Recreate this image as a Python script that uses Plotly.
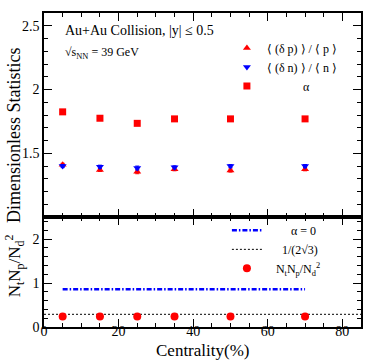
import plotly.graph_objects as go

# centrality bins (%)
centrality = [5, 15, 25, 35, 50, 70]

# top panel values
dp_over_p = [1.41, 1.37, 1.355, 1.375, 1.365, 1.375]
dn_over_n = [1.40, 1.395, 1.385, 1.39, 1.40, 1.40]
alpha = [1.825, 1.775, 1.735, 1.77, 1.77, 1.77]
err_small = [0.012, 0.012, 0.015, 0.012, 0.012, 0.012]

# bottom panel values
ratio = [0.24, 0.24, 0.24, 0.24, 0.24, 0.24]
alpha0 = [0.86, 0.86, 0.86, 0.86, 0.86, 0.86]
ref_x = [0, 85]
ref_val = [0.2887, 0.2887]

FONT = "Liberation Serif"

fig = go.Figure()

fig.add_trace(go.Scatter(
    x=centrality, y=dp_over_p, mode="markers", name="⟨ (δ p) ⟩ / ⟨ p ⟩",
    marker=dict(symbol="triangle-up", color="#ff0000", size=7),
    error_y=dict(type="data", array=err_small, color="#ff0000", thickness=1, width=2),
    xaxis="x", yaxis="y", legend="legend"))
fig.add_trace(go.Scatter(
    x=centrality, y=dn_over_n, mode="markers", name="⟨ (δ n) ⟩ / ⟨ n ⟩",
    marker=dict(symbol="triangle-down", color="#0000ff", size=7),
    error_y=dict(type="data", array=err_small, color="#0000ff", thickness=1, width=2),
    xaxis="x", yaxis="y", legend="legend"))
fig.add_trace(go.Scatter(
    x=centrality, y=alpha, mode="markers", name="            α",
    marker=dict(symbol="square", color="#ff0000", size=7),
    xaxis="x", yaxis="y", legend="legend"))

fig.add_trace(go.Scatter(
    x=centrality, y=alpha0, mode="lines", name="        α = 0",
    line=dict(color="#0000ff", dash="5px,2px,1.5px,2px", width=2.5),
    xaxis="x2", yaxis="y2", legend="legend2"))
fig.add_trace(go.Scatter(
    x=ref_x, y=ref_val, mode="lines", name="     1/(2√3)",
    line=dict(color="black", dash="2px,2px", width=1),
    xaxis="x2", yaxis="y2", legend="legend2"))
fig.add_trace(go.Scatter(
    x=centrality, y=ratio, mode="markers",
    name="   N<sub>t</sub>N<sub>p</sub>/N<sub>d</sub><sup>2</sup>",
    marker=dict(symbol="circle", color="#ff0000", size=8),
    xaxis="x2", yaxis="y2", legend="legend2"))

axis_common = dict(showline=True, linecolor="black", linewidth=1.5, mirror="ticks",
                   ticks="inside", tickcolor="black", ticklen=8, showgrid=False,
                   zeroline=False, tickfont=dict(family=FONT, size=14, color="black"))

fig.update_layout(
    width=374, height=363,
    margin=dict(l=44, r=11, t=13, b=36),
    paper_bgcolor="white", plot_bgcolor="white",
    font=dict(family=FONT, color="black"),
    xaxis=dict(range=[0, 85], dtick=20, showticklabels=False, anchor="y",
               minor=dict(dtick=5, ticklen=4, ticks="inside", tickcolor="black"),
               **axis_common),
    yaxis=dict(domain=[0.35, 1], range=[1.0, 2.6], tickvals=[1.5, 2, 2.5],
               ticktext=["1.5", "2", "2.5"], anchor="x",
               minor=dict(dtick=0.1, tick0=0, ticklen=4, ticks="inside", tickcolor="black"),
               **axis_common),
    xaxis2=dict(range=[0, 85], dtick=20, anchor="y2", matches="x", ticklabelstandoff=-10,
                minor=dict(dtick=5, ticklen=4, ticks="inside", tickcolor="black"),
                **axis_common),
    yaxis2=dict(domain=[0, 0.35], range=[0, 2.5], dtick=1, anchor="x2",
                minor=dict(dtick=0.2, ticklen=4, ticks="inside", tickcolor="black"),
                **axis_common),
    legend=dict(x=0.577, y=0.935, xanchor="left", yanchor="top",
                bgcolor="rgba(0,0,0,0)", itemwidth=30, tracegroupgap=0,
                font=dict(family=FONT, size=12, color="black")),
    legend2=dict(x=0.577, y=0.354, xanchor="left", yanchor="top",
                 bgcolor="rgba(0,0,0,0)", itemwidth=30, tracegroupgap=0,
                 font=dict(family=FONT, size=12, color="black")),
    annotations=[
        dict(text="Au+Au Collision, |y| ≤ 0.5", x=0.06, y=0.975, xref="paper", yref="paper",
             xanchor="left", yanchor="top", showarrow=False,
             font=dict(family=FONT, size=14)),
        dict(text="√s<sub>NN</sub> = 39 GeV", x=0.06, y=0.905, xref="paper", yref="paper",
             xanchor="left", yanchor="top", showarrow=False,
             font=dict(family=FONT, size=12)),
        dict(text="Dimensionless Statistics", x=-0.094, y=0.612, xref="paper", yref="paper",
             xanchor="center", yanchor="middle",
             textangle=-90, showarrow=False, font=dict(family=FONT, size=18)),
        dict(text="N<sub>t</sub>N<sub>p</sub>/N<sub>d</sub><sup>2</sup>", x=-0.094, y=0.194,
             xref="paper", yref="paper", xanchor="center", yanchor="middle",
             textangle=-90, showarrow=False, font=dict(family=FONT, size=17)),
        dict(text="Centrality(%)", x=0.5, y=-0.074, xref="paper", yref="paper",
             xanchor="center", yanchor="middle", showarrow=False,
             font=dict(family=FONT, size=17)),
    ],
)

fig.write_html("out.html", config={"displayModeBar": False},
               post_script="document.body.style.margin='0';")
